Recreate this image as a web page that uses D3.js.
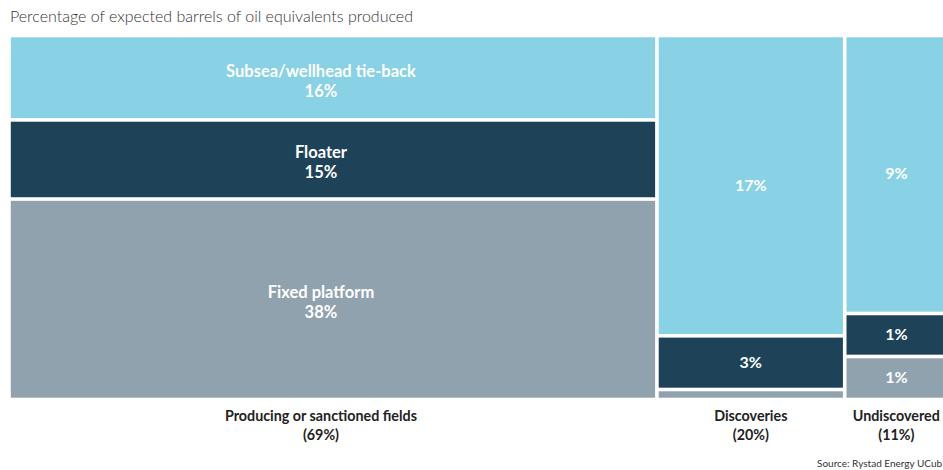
<!DOCTYPE html>
<html>
<head>
<meta charset="utf-8">
<script src="https://cdn.jsdelivr.net/npm/d3@7"></script>
<style>
body { margin:0; background:#fff; font-family:Lato, "Open Sans", sans-serif; }
svg { display:block; }
</style>
</head>
<body>
<svg id="chart" width="943" height="470"></svg>
<script>
// columns of the mekko
var columns	= ["Producing or sanctioned fields", "Discoveries", "Undiscovered"];
var colShares	= [69, 20, 11];
var colTexts	= ["(69%)", "(20%)", "(11%)"];
// stacks, top to bottom
var types	= ["Subsea/wellhead tie-back", "Floater", "Fixed platform"];
var producing	= [16, 15, 38];
var discoveries	= [16.5, 2.95, 0.55];
var undiscovered	= [8.4, 1.3, 1.3];
var segTexts	= [["16%", "15%", "38%"], ["17%", "3%", ""], ["9%", "1%", "1%"]];
var colors	= ["#89d1e5", "#1e4359", "#8fa2ad"];

var svg = d3.select("#chart");
var x = d3.scaleLinear().domain([0, 100]).range([9, 948]);
var y = d3.scaleLinear().domain([0, 1]).range([35.5, 399.5]);
var pad = 1.8;

svg.append("text").attr("x", 10).attr("y", 22)
	.attr("font-size", 16).attr("font-weight", 300).attr("fill", "#333")
	.text("Percentage of expected barrels of oil equivalents produced");

var series = [producing, discoveries, undiscovered];
var start = 0;
series.forEach(function(vals, c) {
	var x0 = start, x1 = start + colShares[c];
	start = x1;
	var tot = d3.sum(vals), acc = 0;
	var g = svg.append("g");
	var cx = (x(x0) + x(x1)) / 2 + (c == 0 ? -12 : 0);
	vals.forEach(function(v, i) {
		var y0 = y(acc / tot), y1 = y((acc + v) / tot);
		acc += v;
		g.append("rect")
			.attr("x", x(x0) + pad).attr("width", x(x1) - x(x0) - 2 * pad)
			.attr("y", y0 + pad).attr("height", Math.max(0, y1 - y0 - 2 * pad))
			.attr("fill", colors[i]);
		var my = (y0 + y1) / 2;
		if (c == 0) {
			g.append("text").attr("x", cx).attr("y", my - 1)
				.attr("text-anchor", "middle").attr("font-size", 16.5).attr("font-weight", 700).attr("fill", "#fff")
				.text(types[i]);
			g.append("text").attr("x", cx).attr("y", my + 19)
				.attr("text-anchor", "middle").attr("font-size", 16.5).attr("font-weight", 700).attr("fill", "#fff")
				.text(segTexts[c][i]);
		} else if (segTexts[c][i]) {
			g.append("text").attr("x", cx).attr("y", my + 5)
				.attr("text-anchor", "middle").attr("font-size", 16).attr("font-weight", 700).attr("fill", "#fff")
				.text(segTexts[c][i]);
		}
	});
	g.append("text").attr("x", cx).attr("y", 421)
		.attr("text-anchor", "middle").attr("font-size", 14.3).attr("font-weight", 700).attr("fill", "#222")
		.text(columns[c]);
	g.append("text").attr("x", cx).attr("y", 440)
		.attr("text-anchor", "middle").attr("font-size", 14.3).attr("font-weight", 700).attr("fill", "#222")
		.text(colTexts[c]);
});

svg.append("text").attr("x", 817).attr("y", 467)
	.attr("font-size", 10).attr("fill", "#333")
	.text("Source: Rystad Energy UCub");
</script>
</body>
</html>
